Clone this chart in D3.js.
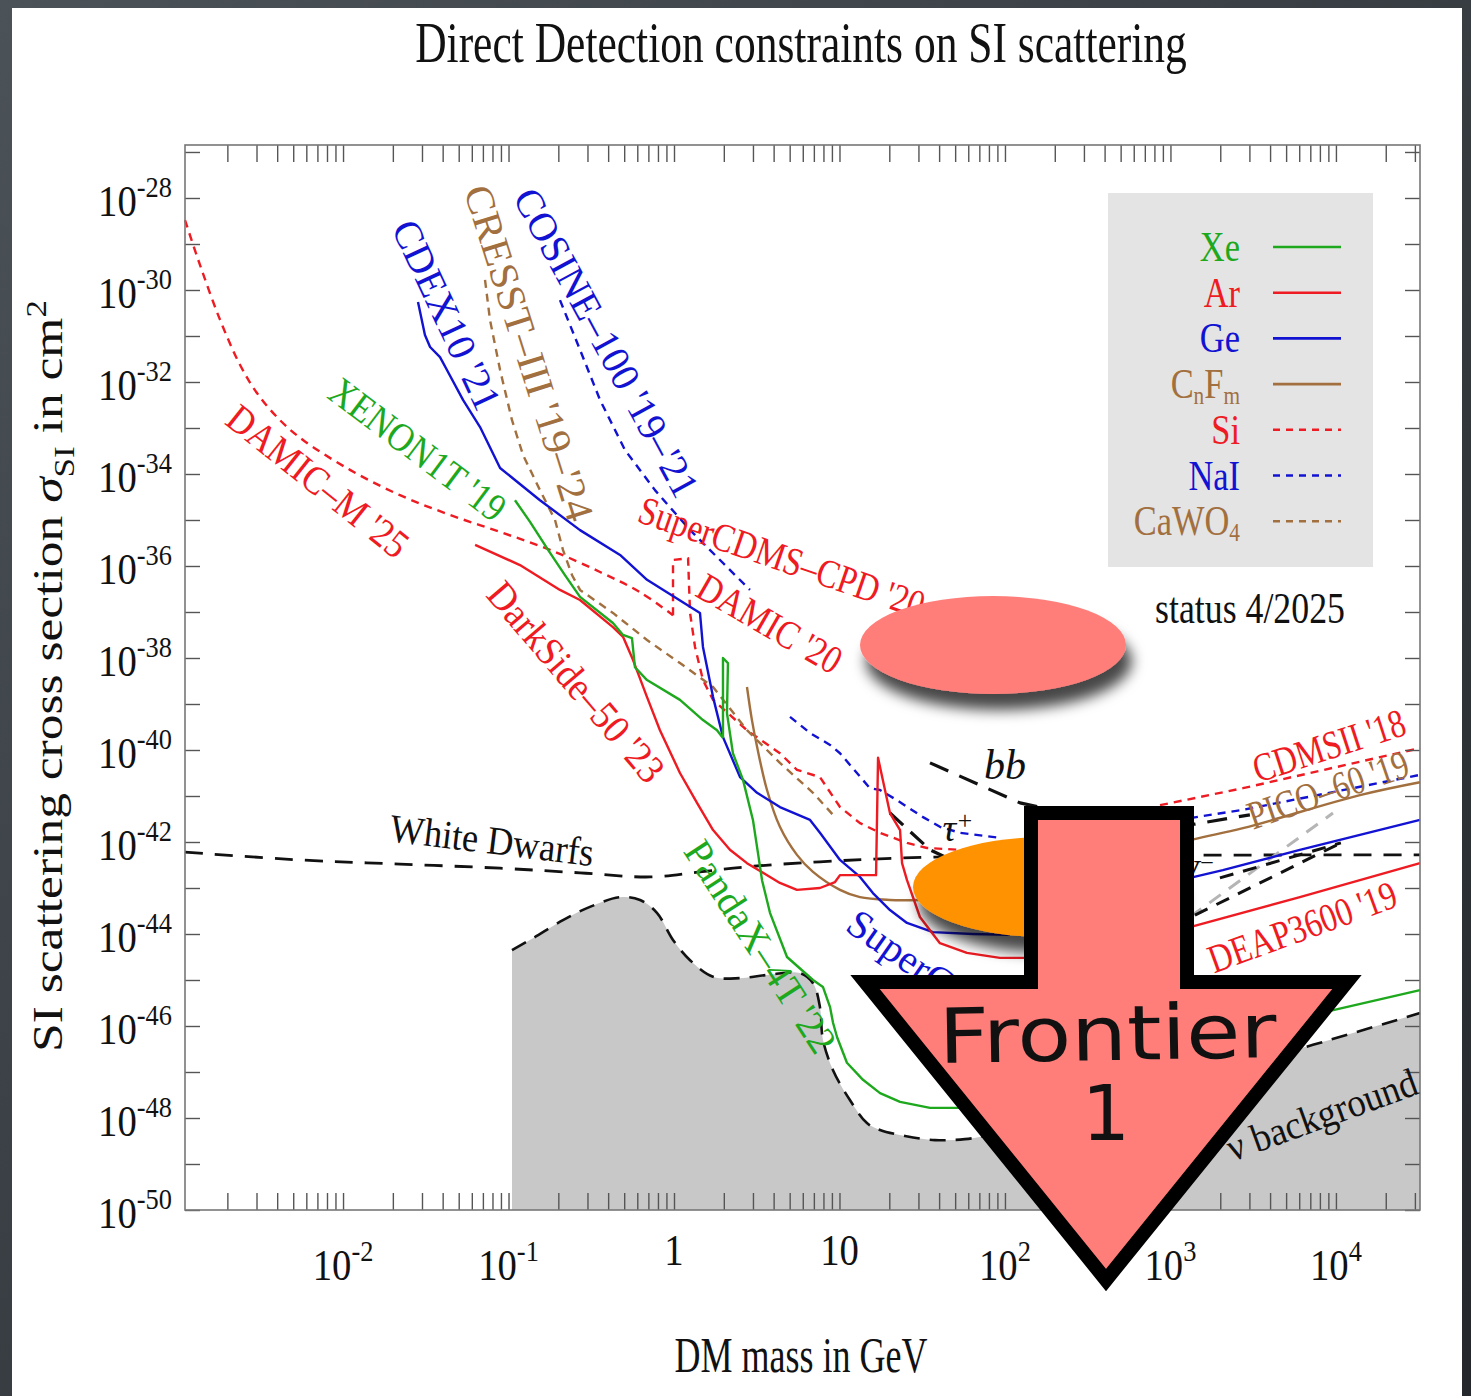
<!DOCTYPE html>
<html>
<head>
<meta charset="utf-8">
<script src="https://d3js.org/d3.v7.min.js"></script>
<style>
  html, body { margin: 0; padding: 0; background: #34393e; }
  #chart { width: 1471px; height: 1396px; }
</style>
</head>
<body>
<div id="chart"></div>
<script>
// every point is [log10(mass / GeV), log10(sigma / cm^2)]

// Xe
const xeXenon1t = [[-0.961,-34.57],[-0.870,-35.04],[-0.761,-35.65],[-0.659,-36.20],[-0.568,-36.67],[-0.369,-37.24],[-0.308,-37.50],[-0.254,-37.57],[-0.236,-38.20],[-0.163,-38.48],[0.036,-38.91],[0.175,-39.35],[0.260,-39.57],[0.296,-39.74]];
const xePandax4t = [[0.296,-39.74],[0.296,-38.00],[0.326,-38.11],[0.320,-39.20],[0.356,-40.07],[0.417,-40.65],[0.477,-41.52],[0.502,-42.11],[0.532,-42.83],[0.580,-43.54],[0.683,-44.50],[0.840,-45.00],[0.900,-45.15],[0.943,-45.59],[0.961,-45.93],[0.985,-46.24],[1.045,-46.80],[1.142,-47.17],[1.245,-47.46],[1.366,-47.65],[1.547,-47.78],[1.728,-47.78],[1.909,-47.70],[2.272,-47.39],[3.178,-46.52],[3.722,-45.91],[3.964,-45.67],[4.508,-45.22]];
// Ar
const arDarkside50 = [[-1.202,-35.54],[-0.931,-35.98],[-0.689,-36.52],[-0.568,-36.74],[-0.369,-37.33],[-0.308,-37.54],[-0.248,-38.04],[-0.163,-38.85],[-0.085,-39.57],[0.036,-40.50],[0.139,-41.15],[0.236,-41.74],[0.338,-42.17],[0.441,-42.46],[0.538,-42.67],[0.640,-42.89],[0.743,-43.04],[0.882,-43.00],[0.973,-42.87],[1.003,-42.72],[1.221,-42.72],[1.233,-40.17],[1.305,-41.37],[1.366,-41.74],[1.378,-42.46],[1.408,-42.83],[1.486,-43.63],[1.607,-44.20],[1.770,-44.41],[1.970,-44.52],[2.151,-44.52]];
const arDeap3600 = [[3.118,-43.85],[3.782,-43.20],[4.508,-42.46]];
// Ge
const geCdexSupercdms = [[-1.547,-30.26],[-1.505,-30.98],[-1.474,-31.24],[-1.414,-31.46],[-1.372,-31.74],[-1.275,-32.39],[-1.172,-32.98],[-1.051,-33.87],[-0.810,-34.57],[-0.568,-35.22],[-0.326,-35.76],[-0.163,-36.30],[0.157,-37.02],[0.175,-37.76],[0.236,-38.85],[0.296,-39.72],[0.399,-40.59],[0.502,-40.93],[0.640,-41.24],[0.822,-41.52],[0.882,-41.80],[1.003,-42.39],[1.124,-42.76],[1.202,-43.11],[1.305,-43.48],[1.408,-43.76],[1.565,-43.96],[1.807,-44.00],[2.030,-44.02]];
const geHigh = [[3.118,-42.78],[3.317,-42.61],[3.782,-42.17],[4.508,-41.52]];
// CnFm
const cnfmPico60 = [[0.441,-38.63],[0.471,-39.35],[0.502,-39.93],[0.562,-40.87],[0.640,-41.67],[0.743,-42.28],[0.840,-42.65],[1.003,-43.04],[1.124,-43.20],[1.305,-43.26],[1.486,-43.26],[1.728,-43.22],[3.118,-41.96],[3.438,-41.70],[4.145,-40.98],[4.508,-40.70]];
// Si
const siDamicM25 = [[-2.955,-28.48],[-2.864,-29.46],[-2.743,-30.65],[-2.622,-31.63],[-2.520,-32.24],[-2.381,-32.83],[-2.242,-33.26],[-1.958,-33.91],[-1.656,-34.46],[-1.353,-34.89],[-1.051,-35.26],[-0.749,-35.65],[-0.447,-36.13],[-0.205,-36.57],[-0.006,-37.07]];
const siCpdDamic20 = [[-0.006,-37.07],[-0.006,-35.87],[0.085,-35.83],[0.097,-37.02],[0.127,-37.76],[0.175,-38.48],[0.236,-38.91],[0.441,-39.57],[0.640,-40.07],[0.743,-40.43],[0.882,-40.59],[1.003,-41.24],[1.124,-41.59],[1.245,-41.80],[1.408,-42.02],[1.529,-42.13],[1.728,-42.17],[1.970,-42.20]];
const siCdmsII18 = [[2.937,-41.20],[3.438,-40.83],[4.508,-39.96]];
// NaI
const naiCosine100 = [[-0.689,-30.22],[-0.568,-31.30],[-0.447,-32.39],[-0.296,-33.48],[-0.115,-34.35],[0.097,-35.22],[0.278,-35.87],[0.459,-36.52]];
const naiCosineMid = [[0.701,-39.28],[0.822,-39.63],[0.943,-39.89],[1.003,-40.07],[1.184,-40.83],[1.245,-40.87],[1.347,-41.09],[1.505,-41.46],[1.607,-41.67],[1.728,-41.80],[1.970,-41.91]];
const naiHigh = [[3.118,-41.48],[3.438,-41.30],[4.145,-40.80],[4.508,-40.54]];
// CaWO4
const cawo4Cresst = [[-1.142,-29.78],[-1.112,-30.65],[-1.051,-31.74],[-0.979,-32.83],[-0.912,-33.59],[-0.810,-34.35],[-0.719,-35.00],[-0.671,-35.65],[-0.616,-36.20],[-0.568,-36.52],[-0.369,-37.02],[-0.163,-37.61],[0.036,-38.11],[0.236,-38.63],[0.441,-39.57],[0.640,-40.28],[0.840,-40.93],[0.961,-41.41]];
// astrophysics / indirect
const whiteDwarfs = [[-2.955,-42.22],[-2.260,-42.39],[-1.656,-42.48],[-1.051,-42.57],[-0.568,-42.67],[-0.145,-42.76],[0.157,-42.65],[0.441,-42.54],[0.882,-42.43],[1.565,-42.33],[4.508,-42.28]];
const nuFloor = [[-0.979,-44.35],[-0.852,-44.09],[-0.671,-43.70],[-0.508,-43.41],[-0.326,-43.20],[-0.205,-43.26],[-0.103,-43.54],[-0.006,-44.13],[0.097,-44.57],[0.236,-44.93],[0.399,-44.96],[0.562,-44.89],[0.761,-44.85],[0.840,-45.07],[0.882,-45.59],[0.900,-46.30],[0.961,-46.96],[1.063,-47.61],[1.166,-48.11],[1.245,-48.26],[1.396,-48.39],[1.577,-48.48],[1.758,-48.46],[1.940,-48.35],[2.272,-48.04],[2.876,-47.50],[3.480,-46.80],[3.861,-46.41],[4.508,-45.72]];
const bbLine = [[1.547,-40.28],[2.091,-41.15],[2.600,-41.55],[3.148,-41.61],[3.480,-41.41]];
const tauLine = [[1.305,-41.37],[1.547,-42.17],[1.800,-42.60]];
const wwLine = [[3.148,-43.59],[4.030,-42.02]];
const wwLine2 = [[3.299,-42.78],[4.030,-42.02]];
const grayLine = [[3.118,-43.63],[3.982,-41.37]];

const curveLabels = ["CDEX10 '21", "CRESST\u2013III '19\u2013'24", "COSINE\u2013100 '19\u2013'21", "XENON1T '19",
  "DAMIC\u2013M '25", "DarkSide\u201350 '23", "SuperCDMS\u2013CPD '20", "DAMIC '20", "White Dwarfs",
  "PandaX\u20134T '22", "SuperCDMS '18", "CDMSII '18", "PICO\u201360 '19", "DEAP3600 '19", "\u03bd background"];
const legendLabels = [[["Xe"]], [["Ar"]], [["Ge"]], [["C"], ["n", 1], ["F"], ["m", 1]], [["Si"]], [["NaI"]], [["CaWO"], ["4", 1]]];
const xTickExps = [-2, -1, 0, 1, 2, 3, 4];
const xTickLabels = [["10", "-2"], ["10", "-1"], ["1", ""], ["10", ""], ["10", "2"], ["10", "3"], ["10", "4"]];
const yTickExps = [-28, -30, -32, -34, -36, -38, -40, -42, -44, -46, -48, -50];

function drawChart() {

  // 1. Dimensions
  const dims = { width: 1471, height: 1396, left: 185, right: 1420, top: 145, bottom: 1210 };
  const serif = "'Liberation Serif', 'Times New Roman', serif";
  const col = { xe: "#1ea81e", ar: "#ee1b22", ge: "#1212d2", cnfm: "#a26f3e", ink: "#111" };

  // 2. Canvas
  const svg = d3.select("#chart").append("svg")
      .attr("width", dims.width)
      .attr("height", dims.height);

  const defs = svg.append("defs");
  const bg = defs.append("linearGradient").attr("id", "bg")
      .attr("x1", 0).attr("y1", 0).attr("x2", 1).attr("y2", 1);
  bg.append("stop").attr("offset", 0).attr("stop-color", "#4b5258");
  bg.append("stop").attr("offset", 1).attr("stop-color", "#24282c");
  defs.append("filter").attr("id", "shadow")
      .attr("x", "-30%").attr("y", "-30%").attr("width", "160%").attr("height", "190%")
    .append("feDropShadow")
      .attr("dx", 6).attr("dy", 16).attr("stdDeviation", 7)
      .attr("flood-color", "#000").attr("flood-opacity", 0.72);

  svg.append("rect").attr("width", dims.width).attr("height", dims.height).attr("fill", "url(#bg)");
  svg.append("rect").attr("x", 12).attr("y", 8).attr("width", 1450).attr("height", 1400).attr("fill", "#fff");

  // 3. Scales (log axes)
  const x = d3.scaleLog()
      .domain([10 ** -2.955, 10 ** 4.508])
      .range([dims.left, dims.right]);
  const y = d3.scaleLog()
      .domain([1e-50, 10 ** -26.848])
      .range([dims.bottom, dims.top]);
  const px = d => x(10 ** d[0]);
  const py = d => y(10 ** d[1]);

  const plot = svg.append("g");

  // neutrino floor
  plot.append("path")
      .attr("d", d3.area().x(px).y0(y(1e-50)).y1(py).curve(d3.curveCatmullRom.alpha(0.5))(nuFloor))
      .attr("fill", "#c8c8c8");
  plot.append("path")
      .attr("d", d3.line().x(px).y(py).curve(d3.curveCatmullRom.alpha(0.5))(nuFloor))
      .attr("fill", "none").attr("stroke", col.ink).attr("stroke-width", 2.6)
      .attr("stroke-dasharray", "16,10");

  // 4. Curves
  const dotted = "8,6";
  const curves = [
    { d: whiteDwarfs, c: col.ink, dash: "18,12", w: 2.8, smooth: true },
    { d: grayLine, c: "#b5b5b5", dash: "14,10", w: 3 },
    { d: wwLine, c: col.ink, dash: "14,10", w: 3 },
    { d: wwLine2, c: col.ink, dash: "14,10", w: 3 },
    { d: bbLine, c: col.ink, dash: "20,12", w: 3.2 },
    { d: tauLine, c: col.ink, dash: "18,10", w: 3.2 },
    { d: siDamicM25, c: col.ar, dash: dotted, smooth: true },
    { d: siCpdDamic20, c: col.ar, dash: dotted },
    { d: siCdmsII18, c: col.ar, dash: dotted },
    { d: naiCosine100, c: col.ge, dash: dotted },
    { d: naiCosineMid, c: col.ge, dash: dotted },
    { d: naiHigh, c: col.ge, dash: dotted },
    { d: cawo4Cresst, c: col.cnfm, dash: dotted },
    { d: cnfmPico60, c: col.cnfm, smooth: true },
    { d: geCdexSupercdms, c: col.ge },
    { d: geHigh, c: col.ge },
    { d: arDarkside50, c: col.ar },
    { d: arDeap3600, c: col.ar },
    { d: xeXenon1t, c: col.xe },
    { d: xePandax4t, c: col.xe },
  ];
  curves.forEach(s => {
    const gen = d3.line().x(px).y(py)
        .curve(s.smooth ? d3.curveCatmullRom.alpha(0.5) : d3.curveLinear);
    plot.append("path")
        .attr("d", gen(s.d))
        .attr("fill", "none")
        .attr("stroke", s.c)
        .attr("stroke-width", s.w || 2.4)
        .attr("stroke-dasharray", s.dash || null)
        .attr("stroke-linejoin", "round");
  });

  // 5. Axes (ticks only, pointing inwards) + frame
  const xMinor = x.ticks();
  const yMinor = d3.range(-50, -26).map(e => 10 ** e);
  const tickStyle = g => {
    g.select(".domain").remove();
    g.selectAll(".tick line").attr("stroke", "#555").attr("stroke-width", 1.4);
  };
  svg.append("g").attr("transform", `translate(0,${dims.bottom})`)
      .call(d3.axisBottom(x).tickValues(xMinor).tickSize(-17).tickFormat("")).call(tickStyle);
  svg.append("g").attr("transform", `translate(0,${dims.top})`)
      .call(d3.axisTop(x).tickValues(xMinor).tickSize(-17).tickFormat("")).call(tickStyle);
  svg.append("g").attr("transform", `translate(${dims.left},0)`)
      .call(d3.axisLeft(y).tickValues(yMinor).tickSize(-15).tickFormat("")).call(tickStyle);
  svg.append("g").attr("transform", `translate(${dims.right},0)`)
      .call(d3.axisRight(y).tickValues(yMinor).tickSize(-15).tickFormat("")).call(tickStyle);
  svg.append("rect")
      .attr("x", dims.left).attr("y", dims.top)
      .attr("width", dims.right - dims.left).attr("height", dims.bottom - dims.top)
      .attr("fill", "none").attr("stroke", "#777").attr("stroke-width", 1.6);

  // tick labels: 10 with a raised exponent
  const powerLabel = (gx, gy, base, exp, anchor) => {
    const g = svg.append("g").attr("transform", `translate(${gx},${gy}) scale(0.88,1)`);
    const t = g.append("text").attr("text-anchor", anchor)
        .attr("font-family", serif).attr("font-size", 44).attr("fill", "#111");
    t.append("tspan").text(base);
    if (exp) t.append("tspan").attr("font-size", 30).attr("dy", -19).text(exp);
  };
  yTickExps.forEach(e => powerLabel(172, y(10 ** e) + 18, "10", String(e), "end"));
  xTickExps.forEach((e, i) => {
    const [b, p] = xTickLabels[i];
    powerLabel(x(10 ** e), p ? 1280 : 1265, b, p, "middle");
  });

  // 6. Text helper: centred text squeezed/stretched to a given length
  const fitted = (cx, cy, angle, len, parts, opts) => {
    const g = svg.append("g");
    const t = g.append("text")
        .attr("text-anchor", opts.anchor || "middle")
        .attr("dominant-baseline", opts.baseline || "central")
        .attr("font-family", opts.family || serif)
        .attr("font-size", opts.size)
        .attr("font-style", opts.italic ? "italic" : null)
        .attr("fill", opts.color || "#111");
    const supK = opts.supK || 0.38;
    let shift = 0;
    parts.forEach(([txt, kind, italic]) => {
      const target = kind === "sub" ? opts.size * 0.28 : kind === "sup" ? -opts.size * supK : 0;
      t.append("tspan")
          .attr("dy", target - shift)
          .attr("font-size", kind ? opts.size * 0.68 : null)
          .attr("font-style", italic ? "italic" : null)
          .text(txt);
      shift = target;
    });
    const s = len ? len / t.node().getComputedTextLength() : 1;
    g.attr("transform", `translate(${cx},${cy}) rotate(${angle}) scale(${s},1)`);
    return g;
  };

  // curve labels: [log m, log sigma, angle, length, colour]
  const labelLayout = [
    [-1.372, -30.54, 65, 205, col.ge],
    [-0.876, -31.37, 72.5, 350, col.cnfm],
    [-0.411, -31.15, 61.5, 345, col.ge],
    [-1.547, -33.46, 37, 210, col.xe],
    [-2.151, -34.15, 38.5, 220, col.ar],
    [-0.592, -38.52, 49.5, 250, col.ar],
    [0.653, -35.80, 19, 300, col.ar],
    [0.580, -37.24, 30, 160, col.ar],
    [-1.100, -41.96, 7, 205, col.ink],
    [0.520, -44.28, 57, 245, col.xe],
    [1.728, -45.30, 35, 264, col.ge],
    [3.958, -39.91, -18, 158, col.ar],
    [3.952, -40.87, -19, 168, col.cnfm],
    [3.795, -43.83, -20, 198, col.ar],
    [3.915, -47.93, -20, 200, col.ink],
  ];
  curveLabels.forEach((txt, i) => {
    const [lm, ls, a, len, c] = labelLayout[i];
    fitted(px([lm, ls]), py([lm, ls]), a, len, [[txt]], { size: 40, color: c });
  });
  fitted(px([2.0, -40.33]), py([2.0, -40.33]), 0, 0, [["bb"]], { size: 42, italic: true });
  fitted(px([1.716, -41.70]), py([1.716, -41.70]), 0, 0, [["\u03c4"], ["+", "sup"]], { size: 38, italic: true, supK: 0.22 });
  fitted(px([3.269, -42.93]), py([3.269, -42.93]), 0, 0, [["W"], ["+", "sup"], ["W"], ["\u2212", "sup"]],
      { size: 36, italic: true, anchor: "end", baseline: "auto" });

  // 7. Legend
  svg.append("rect").attr("x", 1108).attr("y", 193).attr("width", 265).attr("height", 374).attr("fill", "#e4e4e4");
  const legendStyle = [
    [col.xe, null], [col.ar, null], [col.ge, null], [col.cnfm, null],
    [col.ar, "7,6"], [col.ge, "7,6"], [col.cnfm, "7,6"],
  ];
  legendLabels.forEach((parts, i) => {
    const ry = 247 + i * 45.7;
    const [c, dash] = legendStyle[i];
    svg.append("line").attr("x1", 1273).attr("x2", 1341).attr("y1", ry).attr("y2", ry)
        .attr("stroke", c).attr("stroke-width", 2.6).attr("stroke-dasharray", dash);
    const g = svg.append("g").attr("transform", `translate(1240,${ry + 14}) scale(0.82,1)`);
    const t = g.append("text").attr("text-anchor", "end")
        .attr("font-family", serif).attr("font-size", 42).attr("fill", c);
    let shift = 0;
    parts.forEach(([txt, sub]) => {
      const target = sub ? 6 : 0;
      t.append("tspan").attr("dy", target - shift).attr("font-size", sub ? 26 : null).text(txt);
      shift = target;
    });
  });
  fitted(1250, 623, 0, 190, [["status 4/2025"]], { size: 44, baseline: "auto" });

  // 8. Titles
  fitted(801, 62, 0, 772, [["Direct Detection constraints on SI scattering"]], { size: 58, baseline: "auto" });
  fitted(801, 1372, 0, 253, [["DM mass in GeV"]], { size: 50, baseline: "auto" });
  fitted(62, 676, -90, 752,
      [["SI scattering cross section "], ["\u03c3", null, true], ["SI", "sub"], [" in cm"], ["2", "sup"]],
      { size: 42, baseline: "auto" });

  // 9. Overlay: highlight ellipses and the arrow
  svg.append("ellipse").attr("cx", 993).attr("cy", 645).attr("rx", 133).attr("ry", 49)
      .attr("fill", "#ff7e7a").attr("filter", "url(#shadow)");
  svg.append("ellipse").attr("cx", 1046).attr("cy", 887).attr("rx", 133).attr("ry", 50)
      .attr("fill", "#ff9200").attr("filter", "url(#shadow)");
  svg.append("path")
      .attr("d", "M1031,813 L1187,813 L1187,982 L1347,982 L1106,1280 L865,982 L1031,982 Z")
      .attr("fill", "#ff7e7a").attr("stroke", "#000").attr("stroke-width", 14)
      .attr("stroke-linejoin", "miter").attr("stroke-miterlimit", 10);
  const hand = "'DejaVu Sans', sans-serif";
  fitted(1108, 1060, -1, 338, [["Frontier"]], { size: 76, family: hand, baseline: "auto" });
  fitted(1106, 1140, 0, 0, [["1"]], { size: 76, family: hand, baseline: "auto" });
}

drawChart();
</script>
</body>
</html>
